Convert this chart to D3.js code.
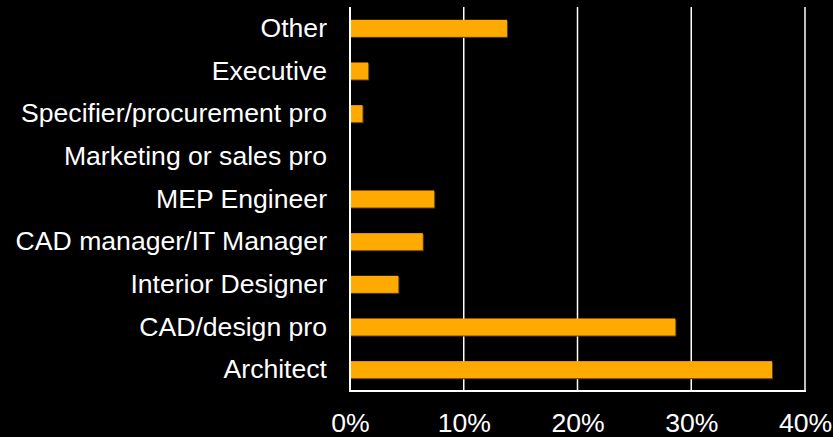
<!DOCTYPE html>
<html>
<head>
<meta charset="utf-8">
<script src="https://cdn.jsdelivr.net/npm/d3@7"></script>
<style>
  html, body { margin: 0; padding: 0; background: #000; }
  svg { display: block; }
  text { font-family: "Liberation Sans", Arial, sans-serif; fill: #fff; }
</style>
</head>
<body>
<svg id="chart" width="833" height="437"></svg>
<script>
// Respondent roles (top to bottom) and their share of responses, in percent
const roles = [
  "Other",
  "Executive",
  "Specifier/procurement pro",
  "Marketing or sales pro",
  "MEP Engineer",
  "CAD manager/IT Manager",
  "Interior Designer",
  "CAD/design pro",
  "Architect"
];
const shares = [13.8, 1.6, 1.1, 0, 7.4, 6.4, 4.25, 28.6, 37.1];
const tickValues = [0, 10, 20, 30, 40];

const svg = d3.select("#chart");
const margin = { top: 7, right: 28, bottom: 46, left: 350 };
const width = 833 - margin.left - margin.right;
const height = 437 - margin.top - margin.bottom;

const g = svg.append("g").attr("transform", `translate(${margin.left},${margin.top})`);

const x = d3.scaleLinear().domain([0, 40]).range([0, width]);
const y = d3.scaleBand().domain(roles).range([0, height]).paddingInner(0.6).paddingOuter(0.3);

// vertical gridlines
g.selectAll("line.grid")
  .data(tickValues.filter(d => d > 0))
  .join("line")
  .attr("class", "grid")
  .attr("x1", d => x(d)).attr("x2", d => x(d))
  .attr("y1", 0).attr("y2", height)
  .attr("stroke", "#fff")
  .attr("stroke-width", 1.5);

const data = roles.map((r, i) => ({ role: r, value: shares[i] }));

// bar shadows
g.selectAll("rect.shadow")
  .data(data.filter(d => d.value > 0))
  .join("rect")
  .attr("class", "shadow")
  .attr("x", 1)
  .attr("y", d => y(d.role) + 1)
  .attr("width", d => x(d.value))
  .attr("height", y.bandwidth())
  .attr("fill", "#5e3e00");

// bars
g.selectAll("rect.bar")
  .data(data.filter(d => d.value > 0))
  .join("rect")
  .attr("class", "bar")
  .attr("x", 0)
  .attr("y", d => y(d.role))
  .attr("width", d => x(d.value))
  .attr("height", y.bandwidth())
  .attr("fill", "#ffaa00");

// left axis line
g.append("line")
  .attr("x1", 0).attr("x2", 0)
  .attr("y1", 0).attr("y2", height)
  .attr("stroke", "#fff").attr("stroke-width", 2);

// bottom axis line
g.append("line")
  .attr("x1", -1).attr("x2", width + 1)
  .attr("y1", height).attr("y2", height)
  .attr("stroke", "#fff").attr("stroke-width", 2);

// category labels
const yAxis = d3.axisLeft(y).tickSize(0).tickPadding(23);
const ya = g.append("g").call(yAxis);
ya.select(".domain").remove();
ya.selectAll("text")
  .attr("fill", "#fff")
  .style("font-size", "26.6px")
  .style("font-family", "Liberation Sans, Arial, sans-serif");

// percentage ticks
const xAxis = d3.axisBottom(x).tickValues(tickValues).tickSize(0).tickPadding(22)
  .tickFormat(d => d + "%");
const xa = g.append("g").attr("transform", `translate(0,${height})`).call(xAxis);
xa.select(".domain").remove();
xa.selectAll("text")
  .attr("fill", "#fff")
  .style("font-size", "26.6px")
  .style("font-family", "Liberation Sans, Arial, sans-serif");
</script>
</body>
</html>
